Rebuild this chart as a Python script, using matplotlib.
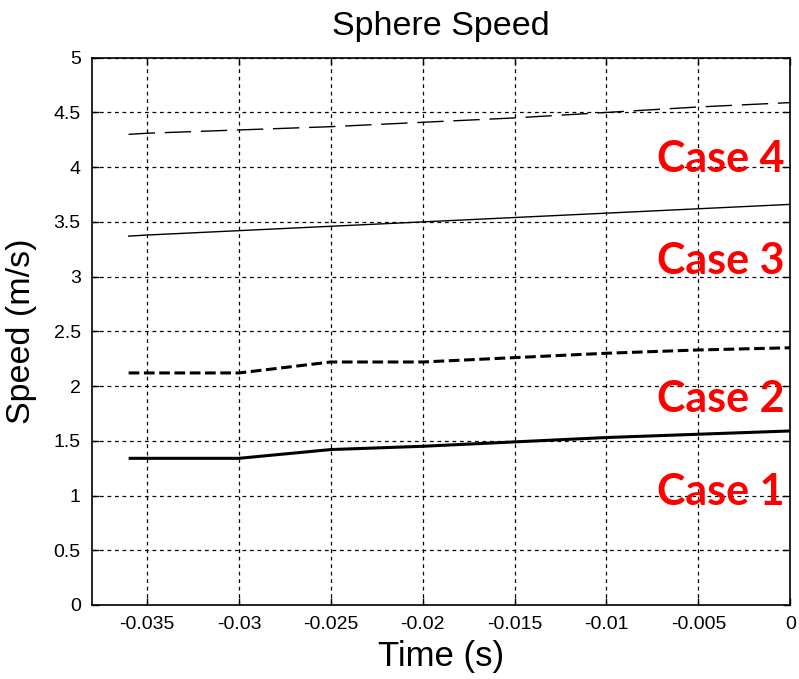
import numpy as np
import matplotlib.pyplot as plt

# time samples (s) and speeds (m/s)
time = [-0.036, -0.035, -0.030, -0.025, -0.020, -0.015, -0.010, -0.005, 0.0]
case1 = [1.34, 1.34, 1.34, 1.42, 1.45, 1.49, 1.53, 1.56, 1.59]
case2 = [2.12, 2.12, 2.12, 2.22, 2.22, 2.26, 2.30, 2.33, 2.35]
case3 = [3.37, 3.38, 3.42, 3.46, 3.50, 3.54, 3.58, 3.62, 3.66]
case4 = [4.30, 4.31, 4.34, 4.37, 4.41, 4.45, 4.50, 4.55, 4.59]

case_names = ["Case 1", "Case 2", "Case 3", "Case 4"]
case_label_y = [0.91, 1.76, 3.02, 3.96]

xticks = [-0.035, -0.03, -0.025, -0.02, -0.015, -0.01, -0.005, 0]
xticklabels = ["-0.035", "-0.03", "-0.025", "-0.02", "-0.015", "-0.01", "-0.005", "0"]
yticks = np.arange(0, 5.01, 0.5)
yticklabels = ["0", "0.5", "1", "1.5", "2", "2.5", "3", "3.5", "4", "4.5", "5"]

plt.rcParams["font.family"] = ["Liberation Sans", "DejaVu Sans"]

fig = plt.figure(figsize=(7.99, 6.79), dpi=100)
ax = fig.add_axes([0.115, 0.109, 0.874, 0.806])

ax.plot(time, case1, color="black", lw=2.2, solid_capstyle="butt")
ax.plot(time, case2, color="black", lw=2.2, linestyle=(0, (3.5, 1.5)))
ax.plot(time, case3, color="black", lw=1.0)
ax.plot(time, case4, color="black", lw=1.0, linestyle=(0, (19, 7)))

for name, y in zip(case_names, case_label_y):
    ax.text(-0.0003, y, name, color="red", fontsize=31, fontweight="bold",
            family=["Lato", "DejaVu Sans"], ha="right", va="baseline")

ax.set_xlim(-0.038, 0)
ax.set_ylim(0, 5)
ax.set_xticks(xticks)
ax.set_xticklabels(xticklabels)
ax.set_yticks(yticks)
ax.set_yticklabels(yticklabels)
ax.tick_params(direction="in", length=5, width=1, labelsize=14, pad=8,
               top=True, right=True)
ax.grid(True, color="black", linestyle=(0, (3, 3)), linewidth=0.9)
for s in ax.spines.values():
    s.set_linewidth(1.2)

ax.set_title("Sphere Speed", fontsize=24.5, pad=16)
ax.set_xlabel("Time (s)", fontsize=25, labelpad=5)
ax.set_ylabel("Speed (m/s)", fontsize=24.5, labelpad=12)

fig.savefig("out.png", dpi=100)
